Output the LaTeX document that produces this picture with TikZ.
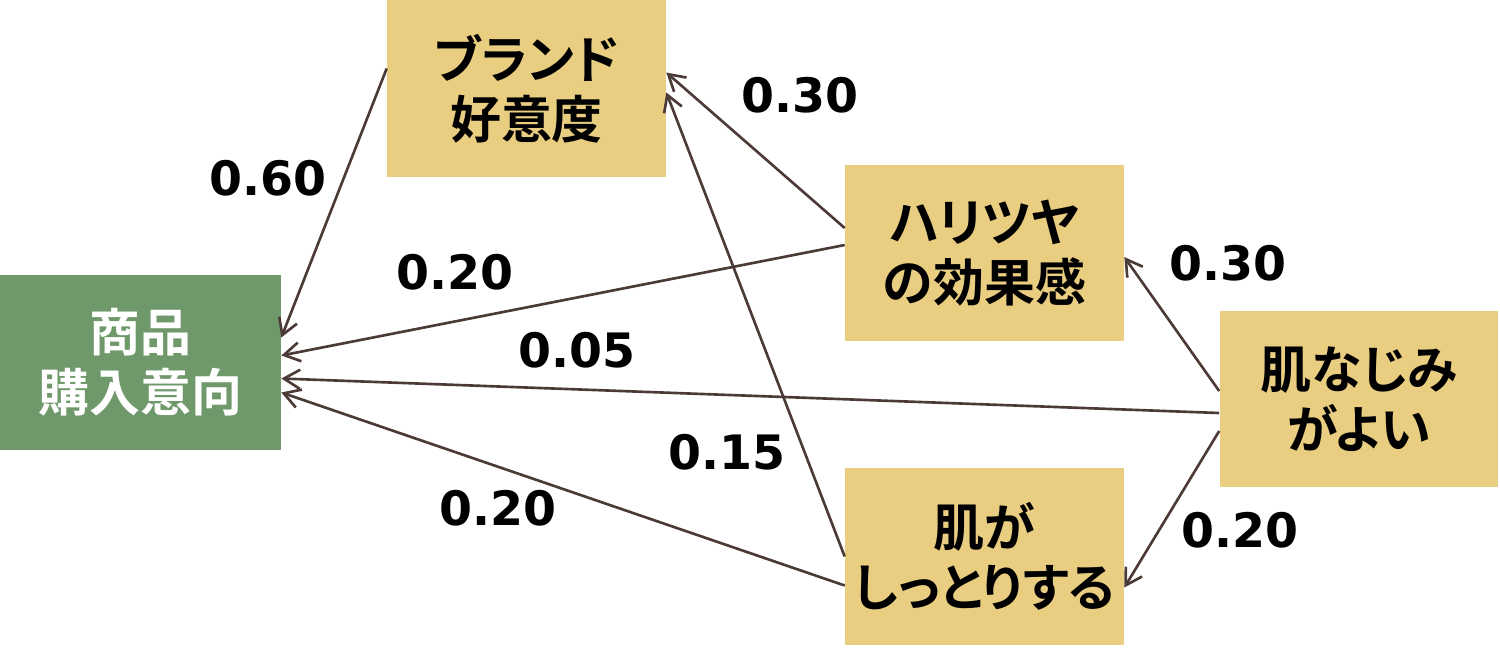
\documentclass[tikz,border=0pt]{standalone}
\usepackage{fontspec}
\usepackage{xcolor}
\usepackage{tikz}
\usetikzlibrary{arrows.meta,positioning}
\newfontfamily\jpfont{Noto Sans CJK JP}[BoldFont={Noto Sans CJK JP Bold}, RawFeature=+palt]
\newfontfamily\numfont{DejaVu Sans}
\definecolor{boxgreen}{HTML}{6F996A}
\definecolor{boxyellow}{HTML}{E9CD80}
\definecolor{linkbrown}{HTML}{4B3A35}

\begin{document}
\begin{tikzpicture}[
  x=0.02cm,
  y=-0.02cm,
  factor/.style={fill=boxyellow, minimum width=5.58cm, minimum height=3.53cm, inner sep=0pt, align=center,
    font=\jpfont\bfseries\fontsize{29}{34}\selectfont, text=black},
  target/.style={factor, fill=boxgreen, minimum width=5.62cm, minimum height=3.5cm, text=white},
  path/.style={-{Straight Barb[length=3.2mm,width=3.8mm]}, color=linkbrown, line width=1.5pt},
  coef/.style={font=\numfont\bfseries\fontsize{27}{30}\selectfont, inner sep=0pt}
]
\useasboundingbox (0,0) rectangle (1500,647);

% constructs
\node[target] (buy) at (140.5,362.5) {商品\\購入意向};
\node[factor] (brand) at (526.5,88.5) {ブランド\\好意度};
\node[factor] (hari) at (984.5,253) {ハリツヤ\\の効果感};
\node[factor] (najimi) at (1359,399) {肌なじみ\\がよい};
\node[factor] (shitto) at (984.5,556.5) {肌が\\しっとりする};

% paths
\draw[path] ([yshift=0.4cm]brand.west) -- ([yshift=0.5cm]buy.east);
\draw[path] ([yshift=0.5cm]hari.west) -- ([yshift=0.32cm]brand.east);
\draw[path] ([yshift=0.16cm]hari.west) -- ([yshift=0.14cm]buy.east);
\draw[path] ([yshift=-0.28cm]najimi.west) -- ([yshift=-0.32cm]buy.east);
\draw[path] ([yshift=-0.58cm]shitto.west) -- ([yshift=-0.6cm]buy.east);
\draw[path] (shitto.west) -- ([yshift=-0.08cm]brand.east);
\draw[path] ([yshift=0.16cm]najimi.west) -- ([yshift=-0.08cm]hari.east);
\draw[path] ([yshift=-0.64cm]najimi.west) -- ([yshift=-0.62cm]shitto.east);

% coefficients
\node[coef] (c1) at (268,178) {0.60};
\node[coef] (c2) at (800,95) {0.30};
\node[coef] (c3) at (455,272) {0.20};
\node[coef] (c4) at (577,350) {0.05};
\node[coef] (c5) at (727,452) {0.15};
\node[coef] (c6) at (498,508) {0.20};
\node[coef] (c7) at (1228,263) {0.30};
\node[coef] (c8) at (1240,530) {0.20};
\end{tikzpicture}
\end{document}
